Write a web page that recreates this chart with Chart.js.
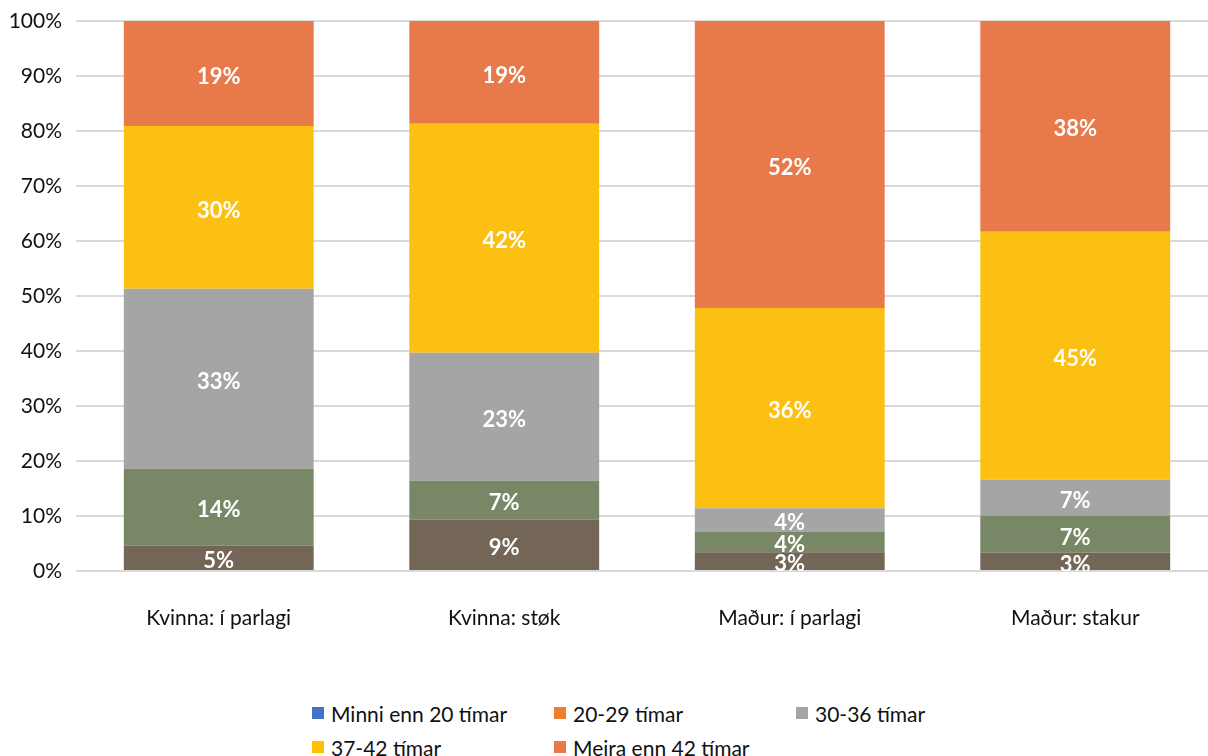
<!DOCTYPE html>
<html>
<head>
<meta charset="utf-8">
<script src="https://cdn.jsdelivr.net/npm/chart.js@4/dist/chart.umd.min.js"></script>
<style>
  html, body { margin: 0; padding: 0; background: #fff; overflow: hidden; }
  body { width: 1208px; height: 756px; position: relative; font-family: Lato, "Noto Sans", sans-serif; }
  #wrap { position: absolute; left: 0; top: 0; width: 1220px; height: 660px; }
  #legend {
    position: absolute; left: 312px; top: 696px;
    display: grid; grid-template-columns: 242px 242px 242px; grid-auto-rows: 34px;
    font-size: 21px; color: #111;
  }
  #legend .item { display: flex; align-items: center; white-space: nowrap; }
  #legend .box { width: 12px; height: 12px; margin-right: 7px; flex: none; }
</style>
</head>
<body>
<div id="wrap"><canvas id="chart"></canvas></div>
<div id="legend"></div>
<script>
// categories and series (bottom to top)
const categories = ['Kvinna: í parlagi', 'Kvinna: støk', 'Maður: í parlagi', 'Maður: stakur'];
const seriesNames = ['Minni enn 20 tímar', '20-29 tímar', '30-36 tímar', '37-42 tímar', 'Meira enn 42 tímar'];

const under20 = [4.6, 9.3, 3.4, 3.3];
const h20to29 = [14.0, 7.1, 3.8, 6.7];
const h30to36 = [32.7, 23.3, 4.2, 6.6];
const h37to42 = [29.6, 41.6, 36.4, 45.1];
const over42 = [19.1, 18.7, 52.2, 38.3];
const seriesValues = [under20, h20to29, h30to36, h37to42, over42];

const yTicks = [0, 10, 20, 30, 40, 50, 60, 70, 80, 90, 100];

// colours as drawn in the bars, and as shown in the legend (they differ in the original)
const barColors = ['#736657', '#788866', '#A5A5A5', '#FCC012', '#E8794A'];
const legendColors = ['#4472C4', '#ED7D31', '#A5A5A5', '#FFC000', '#E8794A'];

const datasets = seriesNames.map((name, i) => ({
  label: name,
  data: seriesValues[i],
  backgroundColor: barColors[i],
  borderWidth: 0,
  categoryPercentage: 1,
  barPercentage: 0.665,
}));

// white percentage labels in the middle of each segment
const segmentLabels = {
  id: 'segmentLabels',
  afterDatasetsDraw(chart) {
    const { ctx, chartArea } = chart;
    ctx.save();
    ctx.beginPath();
    ctx.rect(chartArea.left, chartArea.top, chartArea.right - chartArea.left, chartArea.bottom - chartArea.top);
    ctx.clip();
    ctx.fillStyle = '#fff';
    ctx.font = 'bold 22px Lato, "Noto Sans", sans-serif';
    ctx.textAlign = 'center';
    ctx.textBaseline = 'middle';
    chart.data.datasets.forEach((ds, i) => {
      const meta = chart.getDatasetMeta(i);
      meta.data.forEach((bar, j) => {
        const v = ds.data[j];
        ctx.fillText(Math.round(v) + '%', bar.x, (bar.y + bar.base) / 2 + 3);
      });
    });
    ctx.restore();
  }
};

new Chart(document.getElementById('chart'), {
  type: 'bar',
  data: { labels: categories, datasets: datasets },
  options: {
    responsive: true,
    maintainAspectRatio: false,
    animation: false,
    layout: { padding: { top: 21, right: 2, left: 0, bottom: 0 } },
    plugins: {
      legend: { display: false },
      tooltip: { enabled: false },
    },
    scales: {
      x: {
        stacked: true,
        grid: { display: false },
        border: { display: false },
        ticks: { color: '#111', font: { size: 21, family: 'Lato' }, padding: 27 },
        afterFit(scale) { scale.height = 89; },
      },
      y: {
        stacked: true,
        min: 0,
        max: 100,
        afterBuildTicks(scale) { scale.ticks = yTicks.map(v => ({ value: v })); },
        ticks: { color: '#111', font: { size: 21, family: 'Lato' }, padding: 14, callback: v => v + '%' },
        grid: { color: '#d9d9d9', lineWidth: 2, drawTicks: false },
        border: { display: false },
        afterFit(scale) {
          scale.width = 76;
          scale.paddingTop = 0;
          scale.paddingBottom = 0;
        },
      },
    },
  },
  plugins: [segmentLabels],
});

// legend built from the same series names
const legend = document.getElementById('legend');
seriesNames.forEach((name, i) => {
  const item = document.createElement('div');
  item.className = 'item';
  const box = document.createElement('span');
  box.className = 'box';
  box.style.background = legendColors[i];
  item.appendChild(box);
  item.appendChild(document.createTextNode(name));
  legend.appendChild(item);
});
</script>
</body>
</html>
